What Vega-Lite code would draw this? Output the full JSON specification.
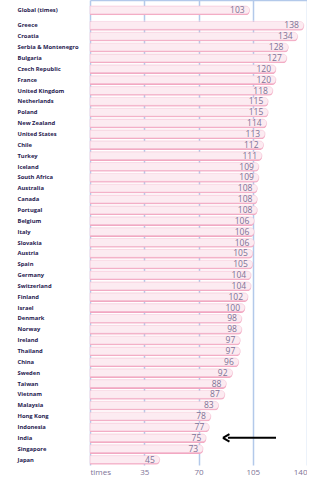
{
  "$schema": "https://vega.github.io/schema/vega-lite/v6.json",
  "background": "white",
  "padding": {"left": 17, "top": 0, "right": 0, "bottom": 0},
  "spacing": 0,
  "config": {
    "view": {"stroke": null},
    "axis": {"gridColor": "#b3c9ea", "gridWidth": 1.5, "domain": false, "ticks": false},
    "text": {"font": "Open Sans"}
  },
  "resolve": {"scale": {"x": "shared"}},
  "vconcat": [
    {
      "width": 217,
      "height": 20,
      "data": {"values": [{"country": "Global (times)", "value": 103}]},
      "encoding": {
        "y": {"field": "country", "type": "nominal", "title": null,
          "axis": {"labelAlign": "left", "labelPadding": 73, "labelFont": "Open Sans", "labelFontWeight": "bold", "labelFontSize": 5.8, "labelColor": "#1f2150"}},
        "x": {"field": "value", "type": "quantitative", "scale": {"domain": [0, 140]}, "title": null,
          "axis": {"orient": "top", "values": [0, 35, 70, 105, 140], "labels": false, "domain": true, "domainColor": "#b3c9ea", "domainWidth": 1.5}}
      },
      "layer": [
        {"mark": {"type": "bar", "height": 8, "yOffset": 1.3, "color": "#f2a6c0", "cornerRadiusEnd": 4}},
        {"mark": {"type": "bar", "height": 8, "color": "#fcebf1", "stroke": "#f5c3d4", "strokeWidth": 0.5, "cornerRadiusEnd": 4}},
        {"mark": {"type": "text", "align": "right", "baseline": "middle", "dx": -5, "fontSize": 8.5, "color": "#7d7396"},
          "encoding": {"text": {"field": "value", "type": "quantitative"}}}
      ]
    },
    {
      "width": 217,
      "height": 445,
      "data": {"values": [
        {"country": "Greece", "value": 138},
        {"country": "Croatia", "value": 134},
        {"country": "Serbia & Montenegro", "value": 128},
        {"country": "Bulgaria", "value": 127},
        {"country": "Czech Republic", "value": 120},
        {"country": "France", "value": 120},
        {"country": "United Kingdom", "value": 118},
        {"country": "Netherlands", "value": 115},
        {"country": "Poland", "value": 115},
        {"country": "New Zealand", "value": 114},
        {"country": "United States", "value": 113},
        {"country": "Chile", "value": 112},
        {"country": "Turkey", "value": 111},
        {"country": "Iceland", "value": 109},
        {"country": "South Africa", "value": 109},
        {"country": "Australia", "value": 108},
        {"country": "Canada", "value": 108},
        {"country": "Portugal", "value": 108},
        {"country": "Belgium", "value": 106},
        {"country": "Italy", "value": 106},
        {"country": "Slovakia", "value": 106},
        {"country": "Austria", "value": 105},
        {"country": "Spain", "value": 105},
        {"country": "Germany", "value": 104},
        {"country": "Switzerland", "value": 104},
        {"country": "Finland", "value": 102},
        {"country": "Israel", "value": 100},
        {"country": "Denmark", "value": 98},
        {"country": "Norway", "value": 98},
        {"country": "Ireland", "value": 97},
        {"country": "Thailand", "value": 97},
        {"country": "China", "value": 96},
        {"country": "Sweden", "value": 92},
        {"country": "Taiwan", "value": 88},
        {"country": "Vietnam", "value": 87},
        {"country": "Malaysia", "value": 83},
        {"country": "Hong Kong", "value": 78},
        {"country": "Indonesia", "value": 77},
        {"country": "India", "value": 75},
        {"country": "Singapore", "value": 73},
        {"country": "Japan", "value": 45}
      ]},
      "encoding": {
        "y": {"field": "country", "type": "nominal", "sort": null, "title": null,
          "axis": {"labelAlign": "left", "labelPadding": 73, "labelFont": "Open Sans", "labelFontWeight": "bold", "labelFontSize": 5.8, "labelColor": "#1f2150"}},
        "x": {"field": "value", "type": "quantitative", "scale": {"domain": [0, 140]}, "title": null,
          "axis": {"values": [0, 35, 70, 105, 140], "labelExpr": "datum.value == 0 ? 'times' : datum.label", "labelColor": "#7d7396", "labelFontSize": 8, "labelFont": "Open Sans", "labelPadding": 3}}
      },
      "layer": [
        {"mark": {"type": "bar", "height": 8, "yOffset": 1.3, "color": "#f2a6c0", "cornerRadiusEnd": 4}},
        {"mark": {"type": "bar", "height": 8, "color": "#fcebf1", "stroke": "#f5c3d4", "strokeWidth": 0.5, "cornerRadiusEnd": 4}},
        {"mark": {"type": "text", "align": "right", "baseline": "middle", "dx": -5, "fontSize": 8.5, "color": "#7d7396"},
          "encoding": {"text": {"field": "value", "type": "quantitative"}}},
        {"data": {"values": [{"country": "India", "start": 89, "end": 120}]},
          "mark": {"type": "rule", "color": "black", "strokeWidth": 2},
          "encoding": {"x": {"field": "start", "type": "quantitative"}, "x2": {"field": "end"}}},
        {"data": {"values": [{"country": "India", "start": 89}]},
          "mark": {"type": "point", "shape": "M-1,0L0.3,-0.75M-1,0L0.3,0.75", "size": 100, "filled": false, "stroke": "black", "strokeWidth": 2, "opacity": 1},
          "encoding": {"x": {"field": "start", "type": "quantitative"}}}
      ]
    }
  ]
}
